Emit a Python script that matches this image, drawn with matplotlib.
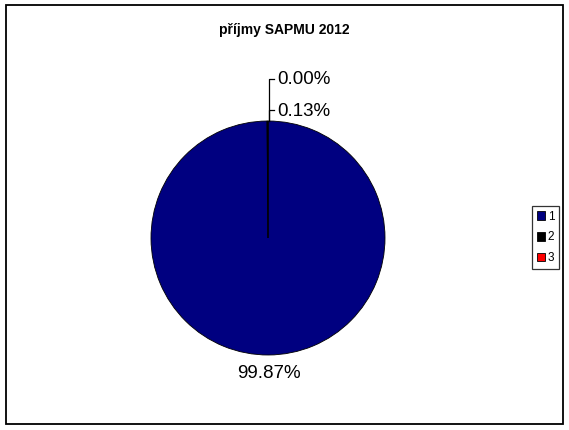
import matplotlib
matplotlib.use("Agg")
import matplotlib.pyplot as plt
from matplotlib.patches import Rectangle, Patch
import numpy as np

plt.rcParams['font.family'] = ['Liberation Sans', 'DejaVu Sans']

title = "příjmy SAPMU 2012"
categories = ["1", "2", "3"]
shares = [99.87, 0.13, 0.00]
colors = ["#000080", "#000000", "#FF0000"]

W, H = 569, 430
fig = plt.figure(figsize=(W / 100, H / 100), dpi=100)
ax = fig.add_axes([0, 0, 1, 1])

# outer chart frame
fig.patches.append(Rectangle((6 / W, 6 / H), 557 / W, 419 / H, transform=fig.transFigure,
                             fill=False, edgecolor='black', linewidth=1.3))

cx, cy, r = 268, H - 238, 117
wedges, _ = ax.pie(shares, colors=colors, startangle=90, counterclock=False,
                   center=(cx, cy), radius=r, frame=True,
                   wedgeprops=dict(edgecolor='black', linewidth=0.6))
ax.set_xlim(0, W)
ax.set_ylim(0, H)
ax.set_aspect('equal')
ax.axis('off')

# labels: big slice below, tiny slices stacked above the top with leader lines
top_y = cy + r
small_rank = 0
for w, val in zip(wedges, shares):
    txt = f"{val:.2f}%"
    mid = np.deg2rad((w.theta1 + w.theta2) / 2)
    if val > 5:
        ax.text(cx + 1.16 * r * np.cos(mid), cy + 1.16 * r * np.sin(mid), txt,
                ha='center', va='center', fontsize=13.5)
    else:
        ly = top_y + 11 + 31 * small_rank
        ax.plot([cx + 1, cx + 1, cx + 6], [top_y, ly, ly], color='black', lw=0.9)
        ax.text(cx + 9, ly - 1, txt, ha='left', va='center', fontsize=13.5)
        small_rank += 1

fig.text(284 / W, 1 - 30 / H, title, ha='center', va='center', fontsize=10, fontweight='bold')

handles = [Patch(facecolor=c, edgecolor='black', linewidth=0.6) for c in colors]
leg = fig.legend(handles, categories, loc='center left', bbox_to_anchor=(532 / W, 1 - 237.5 / H),
                 fontsize=8.5, frameon=True, fancybox=False, handlelength=0.7, handleheight=0.7,
                 handletextpad=0.25, labelspacing=0.75, borderpad=0.4, borderaxespad=0)
leg.get_frame().set_edgecolor('black')
leg.get_frame().set_linewidth(0.9)

fig.savefig("out.png", dpi=100)
